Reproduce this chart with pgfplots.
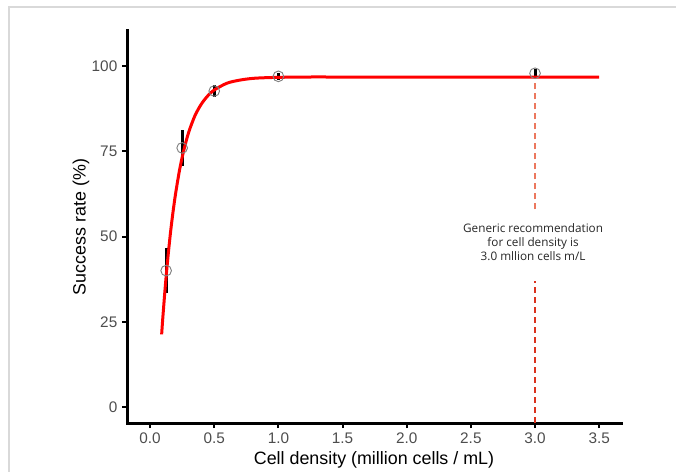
\documentclass[border=0pt]{standalone}
\usepackage{pgfplots}
\pgfplotsset{compat=1.18}
\usepackage{fontspec}
\setmainfont{Liberation Sans}
\newfontfamily\annfont{Open Sans}
\definecolor{ticklab}{HTML}{4D4D4D}
\definecolor{framegray}{HTML}{D9D9D9}
\definecolor{dashlight}{RGB}{236,120,95}
\definecolor{dashdark}{RGB}{218,50,30}
\begin{document}
\begin{tikzpicture}[x=1pt,y=1pt]
\useasboundingbox (0,0) rectangle (507,354);
\draw[framegray, line width=1.5pt] (6.4,0) -- (6.4,348.4) -- (507,348.4);
\begin{axis}[
  at={(95.25pt,36.75pt)}, anchor=south west,
  scale only axis, width=370.5pt, height=294pt,
  xmin=-0.18, xmax=3.67, ymin=-4.7, ymax=110.3,
  axis x line=bottom, axis y line=left,
  axis line style={-, black, line width=2.25pt, line cap=rect},
  xtick={0,0.5,1,1.5,2,2.5,3,3.5},
  ytick={0,25,50,75,100},
  tick style={black, line width=1.5pt},
  major tick length=3.75pt, tick align=outside,
  /pgf/number format/assume math mode=true,
  tick label style={font=\fontsize{11.5}{13}\selectfont, text=ticklab},
  xticklabel style={/pgf/number format/.cd, fixed, fixed zerofill, precision=1},
  xlabel={Cell density (million cells / mL)},
  ylabel={Success rate (\%)},
  every axis x label/.style={at={([yshift=-28pt]axis description cs:0.5,0)}, anchor=center, font=\fontsize{13.4}{15}\selectfont},
  every axis y label/.style={at={([xshift=-34.5pt]axis description cs:0,0.5)}, anchor=center, rotate=90, font=\fontsize{13.4}{15}\selectfont},
]
% dashed recommendation line
\addplot[color=dashdark, line width=1pt, dash pattern=on 4.5pt off 3pt] coordinates {(3,-4.7) (3,37)};
\addplot[color=dashlight, line width=1pt, dash pattern=on 4.5pt off 3pt] coordinates {(3,58) (3,95.6)};
% error bars
\addplot[black, line width=2.25pt, no marks, draw=none,
  error bars/.cd, y dir=both, y explicit, error mark=none,
  error bar style={black, line width=2.25pt}]
  coordinates {
  (0.125,40) +- (0,6.6)
  (0.25,76) +- (0,5.4)
  (0.5,92.7) +- (0,1.9)
  (1.0,97) +- (0,1.1)
  (3.0,97.9) +- (0,1.2)
  };
% fitted curve
\addplot[red, line width=2.25pt, no marks, smooth] coordinates {
  (0.09,21.3) (0.10,26.6) (0.12,36.1) (0.14,44.3) (0.16,51.5) (0.18,57.6)
  (0.20,62.9) (0.23,69.6) (0.26,74.9) (0.30,80.5) (0.35,85.5) (0.40,88.9)
  (0.45,91.3) (0.50,93.0) (0.60,95.0) (0.70,95.9) (0.80,96.4) (0.90,96.6)
  (1.0,96.7) (1.2,96.8) (1.6,96.8) (2.5,96.8) (3.5,96.8)
};
% observed points
\addplot[only marks, mark=o, mark size=4pt, mark options={gray, line width=0.7pt}]
  coordinates {(0.125,40) (0.25,76) (0.5,92.7) (1.0,97) (3.0,97.9)};
\node[align=center, text=black!85, font=\annfont\fontsize{8.8}{10.5}\selectfont]
  at (axis cs:2.985,48.4) {Generic recommendation\\for cell density is\\3.0 mllion cells m/L};
\end{axis}
\end{tikzpicture}
\end{document}
